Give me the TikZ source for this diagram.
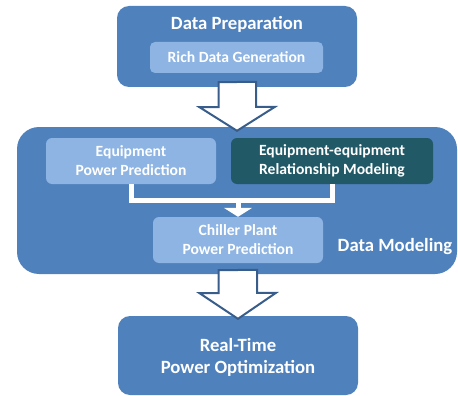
\documentclass[tikz,border=0pt]{standalone}
\usepackage{fontspec}
\setmainfont{Carlito}
\usepackage{tikz}
\usetikzlibrary{arrows.meta, positioning, calc}
\definecolor{mainblue}{HTML}{4F81BD}
\definecolor{lightblue}{HTML}{8DB4E2}
\definecolor{darkteal}{HTML}{215967}
\definecolor{arrowline}{HTML}{385D8A}

\begin{document}
\begin{tikzpicture}[x=1pt, y=-1pt,
  stage/.style={fill=mainblue, rounded corners=12pt, inner sep=0pt},
  sub/.style={fill=lightblue, rounded corners=6pt, text=white, align=center,
    font=\fontsize{15.6}{19}\selectfont\bfseries, minimum height=46pt},
  head/.style={text=white, align=center, font=\fontsize{18.7}{22}\selectfont\bfseries},
  hollow/.style={draw=arrowline, fill=white, line width=2pt, line join=miter},
  flow/.style={draw=white, line width=5pt}
]
  \useasboundingbox (0,0) rectangle (458,396);

  % Data preparation stage
  \node[stage, minimum width=240pt, minimum height=81pt] (prep) at (237,46.5) {};
  \node[head] (preptitle) at (237,24) {Data Preparation};
  \node[sub, minimum width=173pt, minimum height=31pt, rounded corners=5pt] (gen) at (236.5,57.5) {Rich Data Generation};

  % Data modeling stage
  \node[stage, minimum width=440pt, minimum height=147pt, rounded corners=22pt] (model) at (237,200.5) {};
  \node[sub, minimum width=170pt] (eqp) at (131,161) {Equipment\\Power Prediction};
  \node[sub, fill=darkteal, minimum width=202pt] (rel) at (332,161) {Equipment-equipment\\Relationship Modeling};
  \node[sub, minimum width=170pt] (chiller) at (238,240) {Chiller Plant\\Power Prediction};
  \node[head] (modeltitle) at (395,247) {Data Modeling};

  % Optimization stage
  \node[stage, minimum width=240pt, minimum height=79pt] (opt) at (238,355.5) {};
  \node[head] (opttitle) at (238,357) {Real-Time\\Power Optimization};

  % Connectors inside modeling
  \draw[flow] (eqp.south) -- ++(0,16) -| (rel.south);
  \draw[flow, -{Triangle[width=28pt, length=9pt]}] (chiller.north |- 0,198) -- (chiller.north);

  % Block arrows between stages
  \draw[hollow] ($(prep.south)+(-18.5,-5)$) -- ++(0,25) -- ++(-19,0)
    -- ($(model.north)+(0,4)$) -- ++(38,-24) -- ++(-19,0) -- ++(0,-25) -- cycle;
  \draw[hollow] ($(model.south)+(-18.5,-4)$) -- ++(0,23) -- ++(-19,0)
    -- ($(opt.north)+(0,3)$) -- ++(38,-26) -- ++(-19,0) -- ++(0,-23) -- cycle;
\end{tikzpicture}
\end{document}
